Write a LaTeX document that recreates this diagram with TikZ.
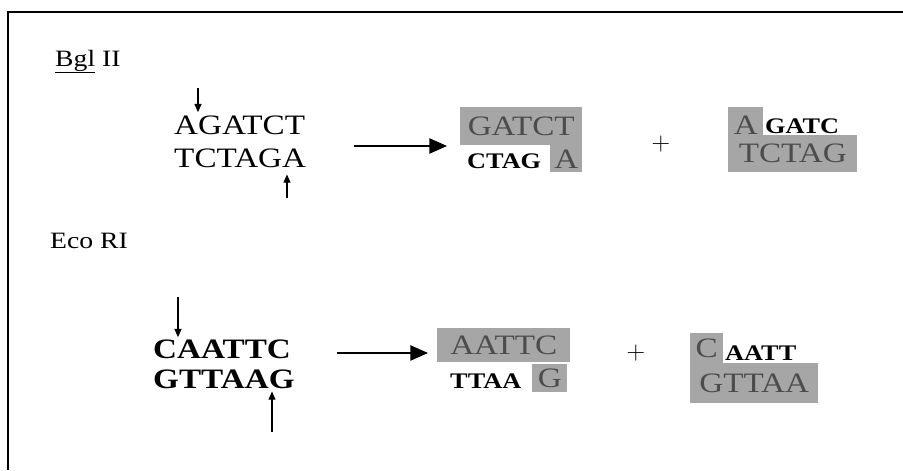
\documentclass[tikz,border=0pt]{standalone}
\usepackage{fontspec}
\newfontfamily\dnafont[FakeStretch=1.18]{Liberation Serif}
\usetikzlibrary{arrows.meta,calc}

\begin{document}
\begin{tikzpicture}[
  x=0.03cm, y=-0.03cm,
  seq/.style={inner sep=0pt, font=\dnafont\fontsize{24}{24}\selectfont},
  seqb/.style={inner sep=0pt, font=\dnafont\bfseries\fontsize{24}{24}\selectfont},
  sticky/.style={inner sep=0pt, anchor=base west, font=\dnafont\bfseries\fontsize{19}{19}\selectfont},
  hl/.style={seq, fill=gray!70, text=black!70, anchor=north west},
  enz/.style={inner sep=0pt, anchor=base west, font=\dnafont\fontsize{20}{20}\selectfont},
  cut/.style={-{Triangle[length=7pt,width=6pt]}, line width=0.9pt},
  react/.style={-{Triangle[length=15pt,width=13pt]}, line width=1.2pt},
  plus/.style={inner sep=0pt, font=\fontsize{22}{22}\selectfont},
]
  \useasboundingbox (0,0) rectangle (903,470);

  % Frame (top and left edge only)
  \draw[line width=1.6pt] (8,470) |- (903,12);

  % Bgl II
  \node[enz] (bgl) at (55,66) {\underline{Bgl} II};
  \node[seq, anchor=base west] (bglTop) at (174,134) {AGATCT};
  \node[seq, anchor=base west] (bglBot) at (174,167) {TCTAGA};
  \coordinate (cutBglTop) at (198,88);
  \coordinate (cutBglBot) at (287,198);
  \draw[cut] (cutBglTop) -- ($(cutBglTop |- bglTop.north)+(0,-3)$);
  \draw[cut] (cutBglBot) -- ($(cutBglBot |- bglBot.south)+(0,7)$);

  \coordinate (rxBglA) at (354,146);
  \coordinate (rxBglB) at (447,146);
  \draw[react] (rxBglA) -- (rxBglB);

  % Bgl II fragments
  \node[hl, minimum width=3.66cm, minimum height=1.14cm] (f1top) at (460,107) {GATCT};
  \node[hl, minimum width=0.96cm, minimum height=0.81cm] (f1a) at (550,145) {A};
  \node[sticky] (f1sticky) at (467,168) {CTAG};

  \node[plus] (plusBgl) at (661,144) {+};

  \node[hl, minimum width=3.87cm, minimum height=1.11cm] (f2bot) at (728,135) {TCTAG};
  \node[hl, minimum width=1.05cm, minimum height=1.08cm] (f2a) at (728,107) {A};
  \node[sticky] (f2sticky) at (765,133) {GATC};

  % Eco RI
  \node[enz] (eco) at (50,248) {Eco RI};
  \node[seqb, anchor=base west] (ecoTop) at (153,358) {CAATTC};
  \node[seqb, anchor=base west] (ecoBot) at (153,388) {GTTAAG};
  \coordinate (cutEcoTop) at (178,297);
  \coordinate (cutEcoBot) at (272,432);
  \draw[cut] (cutEcoTop) -- ($(cutEcoTop |- ecoTop.north)+(0,-2)$);
  \draw[cut] (cutEcoBot) -- ($(cutEcoBot |- ecoBot.south)+(0,3)$);

  \coordinate (rxEcoA) at (337,353);
  \coordinate (rxEcoB) at (428,353);
  \draw[react] (rxEcoA) -- (rxEcoB);

  % Eco RI fragments
  \node[hl, minimum width=3.99cm, minimum height=1.02cm] (f3top) at (437,328) {AATTC};
  \node[hl, minimum width=1.05cm, minimum height=0.84cm] (f3g) at (532,364) {G};
  \node[sticky] (f3sticky) at (450,388) {TTAA};

  \node[plus] (plusEco) at (636,353) {+};

  \node[hl, minimum width=3.84cm, minimum height=1.2cm] (f4bot) at (690,363) {GTTAA};
  \node[hl, minimum width=0.99cm, minimum height=0.9cm] (f4c) at (690,333) {C};
  \node[sticky] (f4sticky) at (725,360) {AATT};
\end{tikzpicture}
\end{document}
